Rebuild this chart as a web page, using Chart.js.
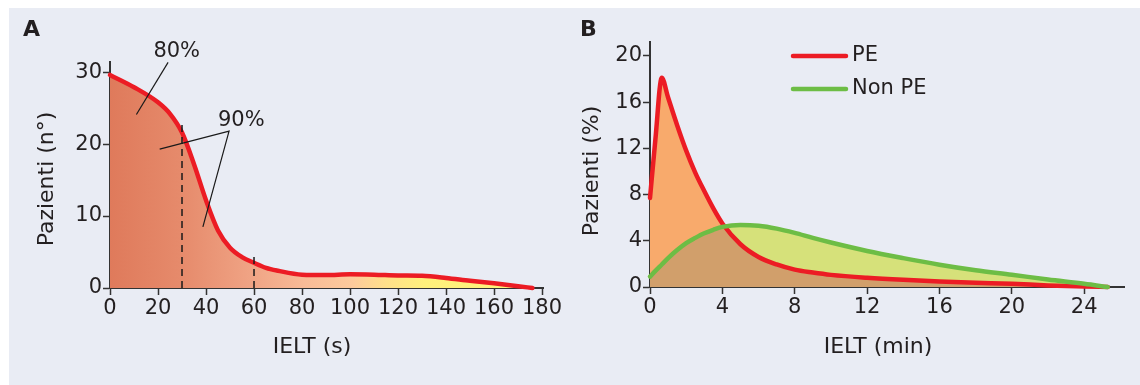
<!DOCTYPE html>
<html>
<head>
<meta charset="utf-8">
<script src="https://cdn.jsdelivr.net/npm/chart.js@4.4.1/dist/chart.umd.min.js"></script>
<style>
  html, body { margin: 0; padding: 0; background: #fff; }
  #panel { position: absolute; left: 9px; top: 8px; width: 1131px; height: 377px; background: #e9ecf4; }
  .box { position: absolute; top: 0; width: 570px; height: 385px; }
  #boxA { left: 0; }
  #boxB { left: 570px; }
</style>
</head>
<body>
<div id="panel"></div>
<div class="box" id="boxA"><canvas id="chartA"></canvas></div>
<div class="box" id="boxB"><canvas id="chartB"></canvas></div>
<script>
// --- Panel A: patients (n) vs IELT (s)
const secondsA  = [0, 10, 20, 25, 30, 35, 40, 45, 50, 55, 60, 65, 70, 80, 90, 100, 110, 120, 130, 140, 150, 160, 170, 176];
const patientsA = [29.6, 27.9, 25.8, 24.2, 21.6, 17.2, 12.2, 8.0, 5.6, 4.3, 3.5, 2.8, 2.4, 1.85, 1.8, 1.9, 1.85, 1.75, 1.7, 1.4, 1.0, 0.65, 0.25, 0];
const ticksA_x = [0, 20, 40, 60, 80, 100, 120, 140, 160, 180];
const ticksA_y = [0, 10, 20, 30];

// dashed markers (x position, top value)
const markerX   = [30, 60];
const markerTop = [22.9, 4.3];

// percentage call-outs
const calloutText = ['80%', '90%'];
const calloutX    = [27.8, 54.7];
const calloutY    = [32.8, 23.3];
const leader80X = [24.2, 11.0];
const leader80Y = [31.35, 24.1];
const leader90X = [20.7, 49.6, 38.7];
const leader90Y = [19.3, 21.8, 8.5];

// --- Panel B: patients (%) vs IELT (min)
const minutesB = [0, 0.3, 0.65, 1, 1.5, 2, 2.5, 3, 3.5, 4, 5, 6, 7, 8, 9, 10, 12, 14, 16, 18, 20, 22, 24, 25.3];
const pePct    = [7.7, 12.8, 18.1, 16.4, 14.0, 11.8, 9.9, 8.3, 6.8, 5.5, 3.7, 2.6, 1.95, 1.5, 1.25, 1.05, 0.8, 0.62, 0.48, 0.37, 0.28, 0.14, 0.05, 0];
const nonPePct = [0.9, 1.4, 1.95, 2.5, 3.2, 3.8, 4.25, 4.65, 4.95, 5.2, 5.37, 5.3, 5.05, 4.68, 4.25, 3.85, 3.12, 2.5, 1.93, 1.45, 1.06, 0.65, 0.28, 0];
const ticksB_x = [0, 4, 8, 12, 16, 20, 24];
const ticksB_y = [0, 4, 8, 12, 16, 20];
const seriesNames = ['PE', 'Non PE'];

const RED = '#ec1c24';
const GREEN = '#6dbd45';
const INK = '#231f20';
const AXIS = '#333333';

Chart.defaults.font.family = "'DejaVu Sans', Verdana, sans-serif";
Chart.defaults.color = INK;

const pts = (xs, ys) => xs.map((x, i) => ({ x: x, y: ys[i] }));

const axisStyle = (min, max, tickValues, fitFn) => ({
    type: 'linear',
    min: min,
    max: max,
    afterFit: fitFn,
    afterBuildTicks: s => { s.ticks = tickValues.map(v => ({ value: v })); },
    ticks: { padding: 1, font: { size: 21 }, color: INK, maxRotation: 0, autoSkip: false },
    grid: { drawOnChartArea: false, tickLength: 7, tickColor: AXIS, tickWidth: 1.5 },
    border: { color: AXIS, width: 2 }
});

// draws free text (panel letters, axis titles, call-outs)
const makeTextPlugin = (id, getItems) => ({
    id: id,
    afterDraw(chart) {
        const ctx = chart.ctx;
        getItems(chart).forEach(it => {
            ctx.save();
            ctx.font = it.font;
            ctx.fillStyle = INK;
            ctx.translate(it.x, it.y);
            if (it.rotate) ctx.rotate(it.rotate);
            ctx.textAlign = it.align || 'center';
            ctx.textBaseline = it.baseline || 'alphabetic';
            ctx.fillText(it.text, 0, 0);
            ctx.restore();
        });
    }
});

const fadeFill = (context) => {
    const chart = context.chart;
    if (!chart.chartArea) return 'rgba(0,0,0,0)';
    const xs = chart.scales.x;
    const g = chart.ctx.createLinearGradient(xs.getPixelForValue(0), 0, xs.getPixelForValue(180), 0);
    g.addColorStop(0.00, '#df7a5b');
    g.addColorStop(0.17, '#e68b6c');
    g.addColorStop(0.33, '#f0a485');
    g.addColorStop(0.45, '#f8bb97');
    g.addColorStop(0.56, '#fdca9c');
    g.addColorStop(0.64, '#ffe08a');
    g.addColorStop(0.73, '#fff17c');
    g.addColorStop(1.00, '#fff57a');
    return g;
};

const textA = makeTextPlugin('textA', (chart) => {
    const sx = chart.scales.x, sy = chart.scales.y;
    const items = [
        { text: 'A', x: 23, y: 36, align: 'left', font: "bold 22px 'DejaVu Sans'" },
        { text: 'Pazienti (n°)', x: 53, y: 179, rotate: -Math.PI / 2, font: "22px 'DejaVu Sans'" },
        { text: 'IELT (s)', x: 312, y: 353, font: "22px 'DejaVu Sans'" }
    ];
    calloutText.forEach((t, i) => {
        items.push({ text: t, x: sx.getPixelForValue(calloutX[i]), y: sy.getPixelForValue(calloutY[i]), baseline: 'middle', font: "21px 'DejaVu Sans'" });
    });
    return items;
});

const dashed = (i) => ({
    data: pts([markerX[i], markerX[i]], [0, markerTop[i]]),
    borderColor: '#1a1a1a', borderWidth: 1.5, borderDash: [7, 5],
    pointRadius: 0, fill: false, clip: false, order: 1
});

new Chart(document.getElementById('chartA'), {
    type: 'line',
    data: {
        datasets: [
            {
                data: pts(secondsA, patientsA),
                borderColor: RED, borderWidth: 4.5, backgroundColor: fadeFill,
                fill: 'origin', cubicInterpolationMode: 'monotone',
                pointRadius: 0, clip: false, order: 2, borderCapStyle: 'round'
            },
            dashed(0),
            dashed(1),
            { data: pts(leader80X, leader80Y), borderColor: '#1a1a1a', borderWidth: 1.2, pointRadius: 0, fill: false, clip: false, order: 0 },
            { data: pts(leader90X, leader90Y), borderColor: '#1a1a1a', borderWidth: 1.2, pointRadius: 0, fill: false, clip: false, order: 0 }
        ]
    },
    options: {
        responsive: true,
        maintainAspectRatio: false,
        animation: false,
        events: [],
        layout: { padding: { left: 0, right: 27, top: 62, bottom: 0 } },
        plugins: { legend: { display: false }, tooltip: { enabled: false }, filler: { drawTime: 'beforeDatasetsDraw' } },
        scales: {
            x: axisStyle(0, 180.4, ticksA_x, s => { s.height = 97; }),
            y: axisStyle(0, 31.4, ticksA_y, s => { s.width = 110; })
        }
    },
    plugins: [textA]
});

// --- Panel B
const ORANGE = '#f8aa6c';
const LIME = '#d6e17a';
const BROWN = '#d19f6b';

const textB = makeTextPlugin('textB', (chart) => [
    { text: 'B', x: 10, y: 36, align: 'left', font: "bold 22px 'DejaVu Sans'" },
    { text: 'Pazienti (%)', x: 28, y: 171, rotate: -Math.PI / 2, font: "22px 'DejaVu Sans'" },
    { text: 'IELT (min)', x: 308, y: 353, font: "22px 'DejaVu Sans'" }
]);

const legendB = {
    id: 'legendB',
    afterDraw(chart) {
        const ctx = chart.ctx;
        [0, 1].forEach((i, row) => {
            const ds = chart.data.datasets[i];
            const y = 56 + row * 33;
            ctx.save();
            ctx.strokeStyle = ds.borderColor;
            ctx.lineWidth = 4.5;
            ctx.lineCap = 'round';
            ctx.beginPath();
            ctx.moveTo(223, y);
            ctx.lineTo(276, y);
            ctx.stroke();
            ctx.font = "21px 'DejaVu Sans'";
            ctx.fillStyle = INK;
            ctx.textAlign = 'left';
            ctx.textBaseline = 'middle';
            ctx.fillText(ds.label, 282, y);
            ctx.restore();
        });
    }
};

new Chart(document.getElementById('chartB'), {
    type: 'line',
    data: {
        datasets: [
            {
                label: seriesNames[0], data: pts(minutesB, pePct),
                borderColor: RED, borderWidth: 4.5,
                fill: { target: 1, above: ORANGE, below: 'rgba(0,0,0,0)' },
                cubicInterpolationMode: 'monotone', pointRadius: 0, clip: false, order: 1, borderCapStyle: 'round'
            },
            {
                label: seriesNames[1], data: pts(minutesB, nonPePct),
                borderColor: GREEN, borderWidth: 4.5,
                fill: { target: 0, above: LIME, below: 'rgba(0,0,0,0)' },
                cubicInterpolationMode: 'monotone', pointRadius: 0, clip: false, order: 0, borderCapStyle: 'round'
            },
            {
                data: pts(minutesB, pePct), borderWidth: 0, backgroundColor: BROWN,
                fill: 'origin', cubicInterpolationMode: 'monotone', pointRadius: 0, order: 3
            },
            {
                data: pts(minutesB, nonPePct), borderWidth: 0, backgroundColor: BROWN,
                fill: 'origin', cubicInterpolationMode: 'monotone', pointRadius: 0, order: 3
            }
        ]
    },
    options: {
        responsive: true,
        maintainAspectRatio: false,
        animation: false,
        events: [],
        layout: { padding: { left: 0, right: 16, top: 42, bottom: 0 } },
        plugins: { legend: { display: false }, tooltip: { enabled: false }, filler: { drawTime: 'beforeDatasetsDraw' } },
        scales: {
            x: axisStyle(0, 26.2, ticksB_x, s => { s.height = 98; }),
            y: axisStyle(0, 21.2, ticksB_y, s => { s.width = 80; })
        }
    },
    plugins: [textB, legendB]
});
</script>
</body>
</html>
